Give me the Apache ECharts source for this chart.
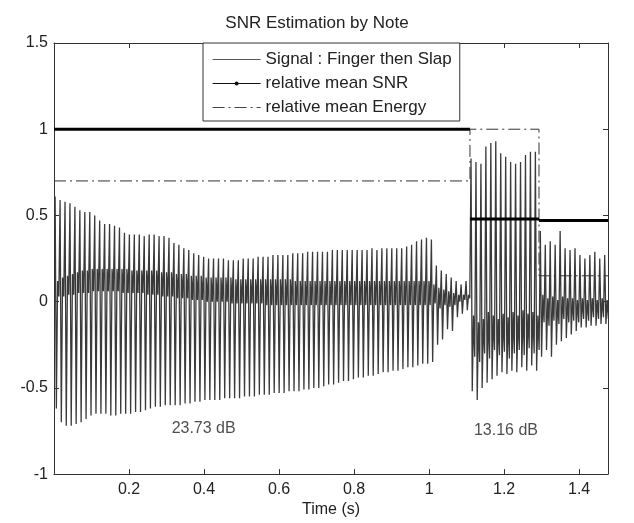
<!DOCTYPE html>
<html>
<head>
<meta charset="utf-8">
<script src="https://cdn.jsdelivr.net/npm/echarts@6/dist/echarts.min.js"></script>
<style>
html,body{margin:0;padding:0;background:#fff;}
#chart{width:634px;height:523px;}
</style>
</head>
<body>
<div id="chart"></div>
<script>
// ---- Data ----
const titleText = 'SNR Estimation by Note';
const xAxisName = 'Time (s)';
const seriesNames = ['Signal : Finger then Slap', 'relative mean SNR', 'relative mean Energy'];

// Note boundaries (s) and per-note step values
const noteBounds = [0, 1.109, 1.293, 1.477];
const snrValues = [1.0, 0.48, 0.47];
const energyValues = [0.70, 1.0, 0.15];

// Per-note dB annotations
const noteLabels = ['23.73 dB', '13.16 dB'];
const noteLabelX = [0.399, 1.205];
const noteLabelY = [-0.739, -0.747];

// Sampled signal: each cycle sampled as [peak, trough, band high, band low]
const signalStart = 0.003;
const signalStep = 0.0033;
const sigTop = [
 0.61,0.59,0.58,0.57,0.55,0.53,0.52,0.52,0.50,0.47,
 0.45,0.45,0.44,0.43,0.40,0.39,0.39,0.39,0.38,0.39,
 0.39,0.38,0.38,0.37,0.34,0.33,0.31,0.30,0.28,0.27,
 0.26,0.25,0.25,0.25,0.25,0.24,0.24,0.24,0.25,0.25,
 0.25,0.26,0.26,0.26,0.27,0.27,0.27,0.27,0.28,0.28,
 0.28,0.29,0.29,0.29,0.29,0.29,0.30,0.30,0.30,0.30,
 0.30,0.30,0.30,0.30,0.31,0.30,0.31,0.31,0.31,0.31,
 0.31,0.32,0.33,0.35,0.36,0.37,0.36,0.21,0.18,0.16,
 0.14,0.12,0.10,0.12,0.83,0.81,0.80,0.90,0.92,0.93,
 0.86,0.84,0.81,0.80,0.81,0.85,0.87,0.87,0.41,0.33,
 0.35,0.33,0.41,0.31,0.30,0.31,0.27,0.25,0.27,0.29,
 0.25,0.27];
const sigBottom = [
 -0.62,-0.70,-0.72,-0.72,-0.71,-0.70,-0.68,-0.66,-0.65,-0.65,
 -0.65,-0.66,-0.66,-0.65,-0.65,-0.65,-0.64,-0.64,-0.63,-0.62,
 -0.61,-0.61,-0.60,-0.60,-0.60,-0.60,-0.59,-0.59,-0.58,-0.58,
 -0.57,-0.57,-0.57,-0.57,-0.56,-0.56,-0.56,-0.56,-0.55,-0.55,
 -0.55,-0.54,-0.54,-0.54,-0.53,-0.53,-0.53,-0.52,-0.52,-0.52,
 -0.51,-0.51,-0.50,-0.50,-0.49,-0.48,-0.48,-0.47,-0.46,-0.46,
 -0.45,-0.44,-0.44,-0.43,-0.43,-0.42,-0.41,-0.41,-0.40,-0.40,
 -0.39,-0.38,-0.38,-0.37,-0.36,-0.36,-0.35,-0.25,-0.22,-0.16,
 -0.17,-0.09,-0.07,-0.05,-0.52,-0.57,-0.50,-0.47,-0.45,-0.43,
 -0.41,-0.42,-0.40,-0.41,-0.38,-0.40,-0.37,-0.40,-0.32,-0.28,
 -0.32,-0.25,-0.23,-0.21,-0.19,-0.17,-0.15,-0.15,-0.14,-0.14,
 -0.13,-0.13];
const sigBandHigh = [
 0.12,0.14,0.15,0.16,0.17,0.18,0.18,0.19,0.19,0.19,
 0.19,0.19,0.19,0.19,0.19,0.18,0.18,0.18,0.18,0.18,
 0.18,0.17,0.17,0.17,0.16,0.16,0.16,0.15,0.15,0.15,
 0.14,0.14,0.14,0.14,0.14,0.14,0.13,0.13,0.13,0.13,
 0.13,0.13,0.13,0.13,0.13,0.13,0.13,0.13,0.12,0.12,
 0.12,0.12,0.12,0.12,0.12,0.12,0.12,0.12,0.12,0.12,
 0.12,0.12,0.12,0.12,0.12,0.12,0.12,0.12,0.12,0.12,
 0.12,0.12,0.12,0.12,0.12,0.12,0.10,0.08,0.07,0.06,
 0.05,0.04,0.04,0.04,-0.08,-0.12,-0.10,-0.06,-0.08,-0.10,
 -0.07,-0.09,-0.06,-0.08,-0.05,-0.07,-0.06,-0.08,0.04,0.02,
 0.03,0.01,0.03,0.02,0.02,0.01,0.02,0.01,0.02,0.01,
 0.02,0.01];
const sigBandLow = [
 0.03,0.03,0.04,0.04,0.05,0.05,0.05,0.06,0.06,0.06,
 0.06,0.06,0.06,0.05,0.05,0.05,0.05,0.05,0.04,0.04,
 0.04,0.03,0.03,0.03,0.02,0.02,0.02,0.01,0.01,0.01,
 0.00,0.00,0.00,0.00,0.00,-0.01,-0.01,-0.01,-0.01,-0.01,
 -0.01,-0.01,-0.02,-0.02,-0.02,-0.02,-0.02,-0.02,-0.02,-0.02,
 -0.02,-0.02,-0.02,-0.02,-0.02,-0.02,-0.02,-0.02,-0.02,-0.02,
 -0.02,-0.02,-0.02,-0.02,-0.02,-0.02,-0.02,-0.02,-0.02,-0.02,
 -0.02,-0.02,-0.02,-0.02,-0.02,-0.02,-0.01,-0.04,-0.02,-0.03,
 -0.02,0.00,0.01,0.02,-0.32,-0.35,-0.30,-0.33,-0.28,-0.31,
 -0.29,-0.33,-0.30,-0.28,-0.31,-0.27,-0.30,-0.28,-0.12,-0.14,
 -0.11,-0.13,-0.10,-0.12,-0.11,-0.12,-0.10,-0.11,-0.09,-0.10,
 -0.09,-0.10];

// Axis ranges / ticks
const xMin = 0, xMax = 1.477, xInterval = 0.2;
const yMin = -1, yMax = 1.5, yInterval = 0.5;

// ---- Build series data ----
const signalData = [];
for (let k = 0; k < sigTop.length; k++) {
  const base = signalStart + k * 4 * signalStep;
  signalData.push([base, sigTop[k]]);
  signalData.push([base + signalStep, sigBottom[k]]);
  signalData.push([base + 2 * signalStep, sigBandHigh[k]]);
  signalData.push([base + 3 * signalStep, sigBandLow[k]]);
}
const snrData = [];
for (let i = 0; i < snrValues.length; i++) {
  if (i > 0) snrData.push([noteBounds[i], '-']);
  snrData.push([noteBounds[i], snrValues[i]]);
  snrData.push([noteBounds[i + 1], snrValues[i]]);
}
const energyData = [];
for (let i = 0; i < energyValues.length; i++) {
  energyData.push([noteBounds[i], energyValues[i]]);
  energyData.push([noteBounds[i + 1], energyValues[i]]);
}
const labelData = noteLabels.map((t, i) => ({ name: t, value: [noteLabelX[i], noteLabelY[i]] }));

const FONT = "'Liberation Sans', Arial, Helvetica, sans-serif";
const axisColor = '#333';
const textColor = '#222';
const hiddenSymbol = { color: 'rgba(0,0,0,0)', borderWidth: 0, opacity: 0 };

const chart = echarts.init(document.getElementById('chart'), null, { renderer: 'canvas' });
chart.setOption({
  animation: false,
  backgroundColor: '#fff',
  textStyle: { fontFamily: FONT },
  title: {
    text: titleText, left: 'center', top: 15, padding: 0,
    textStyle: { fontFamily: FONT, fontSize: 17, fontWeight: 'normal', color: textColor }
  },
  legend: {
    orient: 'vertical', left: 203, top: 43,
    padding: [8, 8, 5, 9],
    backgroundColor: '#fff', borderColor: '#333', borderWidth: 1, borderRadius: 0,
    itemWidth: 48, itemHeight: 5, itemGap: 7,
    textStyle: { fontFamily: FONT, fontSize: 17, color: textColor },
    data: [
      { name: seriesNames[0], lineStyle: { width: 1.2, color: '#555' }, itemStyle: hiddenSymbol },
      { name: seriesNames[1], lineStyle: { width: 1.2, color: '#111' }, itemStyle: { color: '#111' } },
      { name: seriesNames[2], lineStyle: { width: 1, color: '#444' }, itemStyle: hiddenSymbol }
    ]
  },
  grid: { left: 54, right: 26, top: 43, bottom: 45, containLabel: false },
  xAxis: [
    {
      type: 'value', min: xMin, max: xMax, interval: xInterval, position: 'bottom',
      name: xAxisName, nameLocation: 'middle', nameGap: 25,
      nameTextStyle: { fontFamily: FONT, fontSize: 16, color: textColor },
      axisLine: { show: true, onZero: false, lineStyle: { color: axisColor, width: 1 } },
      axisTick: { show: true, inside: true, length: 5, lineStyle: { color: axisColor } },
      axisLabel: { fontFamily: FONT, fontSize: 16, color: textColor, margin: 7, showMinLabel: false, showMaxLabel: false },
      splitLine: { show: false }
    },
    {
      type: 'value', min: xMin, max: xMax, interval: xInterval, position: 'top',
      axisLine: { show: true, onZero: false, lineStyle: { color: axisColor, width: 1 } },
      axisTick: { show: true, inside: true, length: 5, lineStyle: { color: axisColor } },
      axisLabel: { show: false }, splitLine: { show: false }
    }
  ],
  yAxis: [
    {
      type: 'value', min: yMin, max: yMax, interval: yInterval, position: 'left',
      axisLine: { show: true, onZero: false, lineStyle: { color: axisColor, width: 1 } },
      axisTick: { show: true, inside: true, length: 5, lineStyle: { color: axisColor } },
      axisLabel: { fontFamily: FONT, fontSize: 16, color: textColor, margin: 6 },
      splitLine: { show: false }
    },
    {
      type: 'value', min: yMin, max: yMax, interval: yInterval, position: 'right',
      axisLine: { show: true, onZero: false, lineStyle: { color: axisColor, width: 1 } },
      axisTick: { show: true, inside: true, length: 5, lineStyle: { color: axisColor } },
      axisLabel: { show: false }, splitLine: { show: false }
    }
  ],
  series: [
    {
      name: seriesNames[0], type: 'line', data: signalData,
      symbol: 'none', sampling: null, clip: true,
      lineStyle: { color: '#3a3a3a', width: 1.3 }, itemStyle: { color: '#3a3a3a' },
      z: 2
    },
    {
      name: seriesNames[1], type: 'line', data: snrData,
      symbol: 'circle', symbolSize: 5, showSymbol: false, connectNulls: false,
      lineStyle: { color: '#000', width: 3 }, itemStyle: { color: '#000' },
      z: 4
    },
    {
      name: seriesNames[2], type: 'line', data: energyData,
      symbol: 'none',
      lineStyle: { color: '#333', width: 1, type: [12, 4, 2, 4] }, itemStyle: { color: '#333' },
      z: 3
    },
    {
      name: 'labels', type: 'scatter', data: labelData, symbolSize: 0, silent: true,
      label: { show: true, position: 'inside', formatter: p => p.name, fontFamily: FONT, fontSize: 16, color: textColor },
      z: 5
    }
  ]
});
</script>
</body>
</html>
